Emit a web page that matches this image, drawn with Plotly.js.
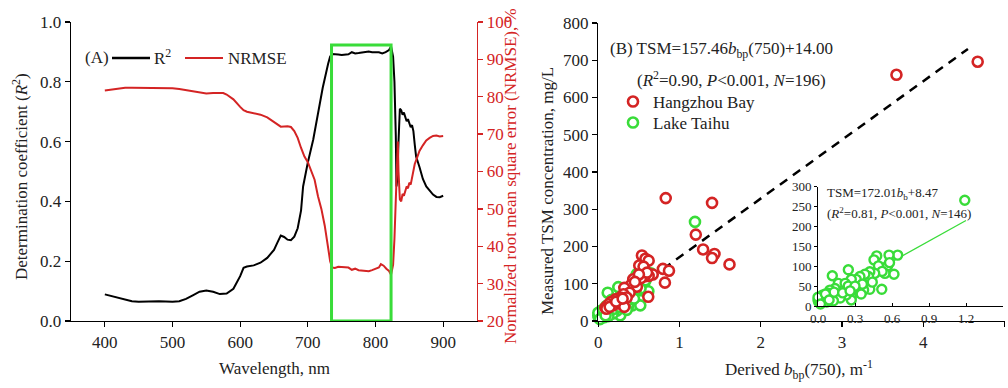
<!DOCTYPE html>
<html>
<head>
<meta charset="utf-8">
<script src="https://cdn.plot.ly/plotly-3.0.1.min.js"></script>
<style>html,body{margin:0;padding:0;background:#fff;}#chart{width:1008px;height:388px;}</style>
</head>
<body>
<div id="chart"></div>
<script>
// ---------- Panel A data ----------
const wlR2 = [400,410,420,430,440,450,460,470,480,490,500,510,520,530,540,550,560,570,580,590,600,605,610,620,630,640,650,655,660,665,670,675,680,685,690,693,697,700,708,715,722,730,733,736,740,745,750,755,760,765,770,775,780,785,790,795,800,805,810,815,820,823,826,828,830,831,832,834,836,838,840,842,844,846,848,850,852,854,856,858,860,865,870,875,880,885,890,895,900];
const r2 = [0.089,0.083,0.076,0.070,0.066,0.064,0.065,0.067,0.066,0.065,0.064,0.066,0.074,0.086,0.098,0.102,0.098,0.090,0.092,0.108,0.150,0.178,0.182,0.186,0.195,0.211,0.238,0.262,0.286,0.281,0.272,0.270,0.282,0.310,0.370,0.450,0.500,0.530,0.607,0.695,0.780,0.860,0.885,0.893,0.893,0.891,0.890,0.892,0.892,0.899,0.895,0.896,0.898,0.899,0.901,0.899,0.898,0.899,0.895,0.899,0.906,0.918,0.884,0.800,0.620,0.450,0.470,0.600,0.710,0.705,0.690,0.697,0.680,0.668,0.675,0.660,0.648,0.655,0.635,0.590,0.550,0.515,0.475,0.450,0.435,0.423,0.415,0.414,0.419];

const wlNrmse = [400,410,420,430,440,450,460,470,480,490,500,510,520,530,540,550,560,570,575,580,590,600,605,610,620,630,640,650,655,660,670,675,680,685,690,695,700,705,710,715,720,725,730,733,736,740,745,750,755,760,765,770,775,780,785,790,795,800,805,808,812,816,820,823,826,828,830,832,833,834,835,836,838,840,842,844,846,848,850,852,854,856,858,860,865,870,875,880,885,890,895,900];
const nrmse = [81.7,82.0,82.2,82.4,82.4,82.4,82.3,82.3,82.3,82.3,82.3,82.1,81.8,81.5,81.2,80.9,81.0,81.1,81.0,80.6,79.3,77.3,76.4,76.0,75.7,75.2,74.5,73.3,72.6,72.0,72.1,71.9,70.8,69.0,66.3,64.0,62.5,60.2,57.8,53.4,50.0,45.5,39.5,36.0,34.3,34.2,34.5,34.4,34.2,34.3,33.7,34.0,33.6,33.5,33.4,33.3,33.6,34.0,34.3,35.2,34.8,34.0,33.4,32.4,35.0,42.0,55.0,63.0,68.0,60.0,55.0,52.5,52.0,54.0,53.5,55.0,56.0,55.5,57.0,56.5,58.5,60.5,62.0,63.0,65.5,67.0,68.3,69.0,69.5,69.6,69.4,69.5];

const bandNm = [735, 823];      // selected optimal band (green box)
const bandTop = 0.923;

// ---------- Panel B data ----------
const hzX = [4.67,3.67,0.83,1.40,1.20,1.29,1.43,1.40,1.615,0.795,0.87,0.82,0.537,0.58,0.62,0.504,0.557,0.67,0.62,0.57,0.525,0.43,0.40,0.32,0.475,0.385,0.31,0.27,0.21,0.35,0.615,0.156,0.107,0.13,0.25,0.32,0.086,0.18,0.10,0.14,0.60,0.50,0.45,0.22,0.30];
const hzY = [696,661,330,317,232,192,180,169,152,140,135,103,176,167,162,149,146,125,121,120,115,112,96,89,92,76,72,63,58,63,65,51,40,45,47,38,36,42,33,38,130,125,105,52,60];

const thX = [1.19,0.646,0.576,0.476,0.454,0.49,0.565,0.543,0.616,0.58,0.52,0.46,0.42,0.41,0.38,0.34,0.31,0.27,0.246,0.116,0.42,0.517,0.37,0.33,0.29,0.27,0.27,0.23,0.205,0.19,0.165,0.22,0.245,0.138,0.097,0.083,0.11,0.15,0.18,0.057,0.03,0.016,0.005,0.04,0.07,0.125,0.0,0.0,0.36,0.30,0.44,0.35,0.13,0.06,0.02,0.09,0.20,0.26];
const thY = [266,128,128,126,116,101,101,82,80,109,87,82,86,74,80,74,67,67,91,76,42,42,40,35,44,23,15,28,40,50,57,57,50,44,40,32,23,28,20,19,15,23,10,28,10,13,15,22,55,50,60,30,35,30,5,15,33,38];

// regression lines (from the printed equations)
const fitAllX = [0.0, 4.55];
const fitAllY = [14.0, 730.4];
const fitThX = [0.0, 1.20];
const fitThY = [8.47, 214.9];

// ---------- helpers ----------
const W = 1008, H = 388;
const px = v => v / W;
const py = v => (H - v) / H;
const FONT = 'Liberation Serif';
const TXT = '#222222';
const RED = '#d42424';
const GREEN = '#39dc39';
const BLACK = '#000000';
const f = (size, color) => ({family: FONT, size: size, color: color || TXT});

const traces = [
  {x: wlR2, y: r2, xaxis: 'x', yaxis: 'y', mode: 'lines', line: {color: BLACK, width: 2}, showlegend: false, hoverinfo: 'skip'},
  {x: wlNrmse, y: nrmse, xaxis: 'x', yaxis: 'y2', mode: 'lines', line: {color: RED, width: 2}, showlegend: false, hoverinfo: 'skip'},
  {x: fitAllX, y: fitAllY, xaxis: 'x2', yaxis: 'y3', mode: 'lines', line: {color: BLACK, width: 2.5, dash: '9px,7px'}, showlegend: false},
  {x: thX, y: thY, xaxis: 'x2', yaxis: 'y3', mode: 'markers', name: 'Lake Taihu', legend: 'legend2', cliponaxis: false,
   marker: {symbol: 'circle', size: 10, color: '#ffffff', line: {color: GREEN, width: 2.6}}},
  {x: hzX, y: hzY, xaxis: 'x2', yaxis: 'y3', mode: 'markers', name: 'Hangzhou Bay', legend: 'legend', cliponaxis: false,
   marker: {symbol: 'circle', size: 10, color: '#ffffff', line: {color: RED, width: 2.6}}},
  {x: fitThX, y: fitThY, xaxis: 'x3', yaxis: 'y4', mode: 'lines', line: {color: GREEN, width: 1.3}, showlegend: false},
  {x: thX, y: thY, xaxis: 'x3', yaxis: 'y4', mode: 'markers', showlegend: false, cliponaxis: false,
   marker: {symbol: 'circle', size: 9, color: '#ffffff', line: {color: GREEN, width: 2.4}}}
];

const axBase = {showgrid: false, zeroline: false, showline: true, linecolor: BLACK, linewidth: 1.3,
  ticks: 'outside', ticklen: 5, tickwidth: 1.3, tickcolor: BLACK, tickfont: f(17)};

const legBase = {xanchor: 'left', yanchor: 'middle', bgcolor: 'rgba(0,0,0,0)', borderwidth: 0,
  font: f(17), itemsizing: 'trace'};

function ann(text, x, y, opts) {
  return Object.assign({text: text, x: px(x), y: py(y), xref: 'paper', yref: 'paper',
    xanchor: 'left', yanchor: 'middle', showarrow: false, font: f(17)}, opts || {});
}

const layout = {
  width: W, height: H,
  margin: {l: 0, r: 0, t: 0, b: 0},
  paper_bgcolor: '#fff', plot_bgcolor: 'rgba(0,0,0,0)',
  font: f(17),
  xaxis: Object.assign({}, axBase, {domain: [px(71), px(477)], range: [350, 950], tickvals: [400,500,600,700,800,900], anchor: 'y'}),
  yaxis: Object.assign({}, axBase, {domain: [py(321), py(22)], range: [0, 1], dtick: 0.2, tickformat: '.1f', anchor: 'x'}),
  yaxis2: Object.assign({}, axBase, {overlaying: 'y', side: 'right', anchor: 'x', range: [20, 100], dtick: 10,
    linecolor: RED, tickcolor: RED, tickfont: f(17, RED)}),
  xaxis2: Object.assign({}, axBase, {domain: [px(598.3), px(1004.5)], range: [0, 5], dtick: 1, anchor: 'y3'}),
  yaxis3: Object.assign({}, axBase, {domain: [py(321), py(23)], range: [0, 800], dtick: 100, anchor: 'x2'}),
  xaxis3: Object.assign({}, axBase, {domain: [px(818), px(1003)], range: [0, 1.5], dtick: 0.3, tickformat: '.1f', anchor: 'y4',
    ticks: 'inside', ticklen: 3, linewidth: 1, tickwidth: 1, tickfont: f(13)}),
  yaxis4: Object.assign({}, axBase, {domain: [py(306), py(186.7)], range: [0, 300], dtick: 50, anchor: 'x3',
    ticklen: 3, linewidth: 1, tickwidth: 1, tickfont: f(13)}),
  showlegend: true,
  legend: Object.assign({}, legBase, {x: px(613), y: py(102)}),
  legend2: Object.assign({}, legBase, {x: px(613), y: py(123)}),
  shapes: [
    {type: 'rect', xref: 'x', yref: 'y', x0: bandNm[0], x1: bandNm[1], y0: 0, y1: bandTop,
     line: {color: GREEN, width: 3}, fillcolor: 'rgba(0,0,0,0)'},
    {type: 'line', xref: 'paper', yref: 'paper', x0: px(112), x1: px(150), y0: py(58), y1: py(58), line: {color: BLACK, width: 2.5}},
    {type: 'line', xref: 'paper', yref: 'paper', x0: px(185), x1: px(223), y0: py(58), y1: py(58), line: {color: RED, width: 2}}
  ],
  annotations: [
    ann('(A)', 83, 57),
    ann('R<sup>2</sup>', 152, 57),
    ann('NRMSE', 226, 58),
    ann('Wavelength, nm', 274, 368, {xanchor: 'center'}),
    ann('Determination coefficient (<i>R</i><sup>2</sup>)', 20, 177, {xanchor: 'center', textangle: -90}),
    ann('Normalized root mean square error (NRMSE), %', 510, 176, {xanchor: 'center', textangle: -90, font: f(17, RED)}),
    ann('Measured TSM concentration, mg/L', 547, 191, {xanchor: 'center', textangle: -90}),
    ann('Derived <i>b</i><sub>bp</sub>(750), m<sup>-1</sup>', 799, 369, {xanchor: 'center'}),
    ann('(B) TSM=157.46<i>b</i><sub>bp</sub>(750)+14.00', 608, 50),
    ann('(<i>R</i><sup>2</sup>=0.90, <i>P</i>&lt;0.001, <i>N</i>=196)', 635, 79),
    ann('TSM=172.01<i>b</i><sub>b</sub>+8.47', 825, 193, {font: f(13)}),
    ann('(<i>R</i><sup>2</sup>=0.81, <i>P</i>&lt;0.001, <i>N</i>=146)', 825, 213, {font: f(13)})
  ]
};

Plotly.newPlot('chart', traces, layout, {displayModeBar: false, staticPlot: true});
</script>
</body>
</html>
